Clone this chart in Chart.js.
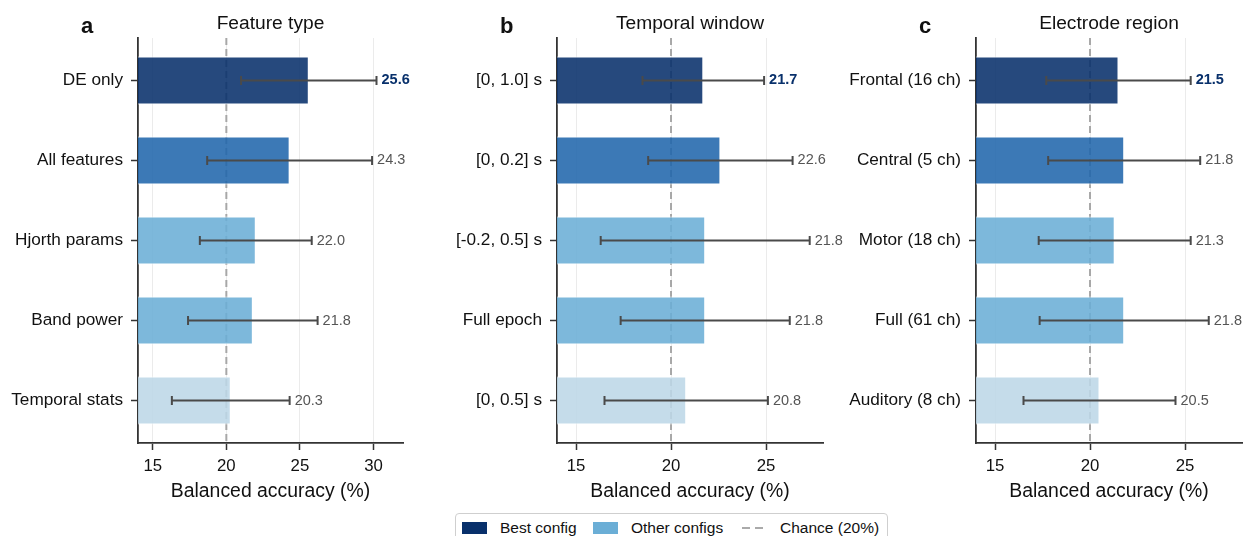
<!DOCTYPE html>
<html>
<head>
<meta charset="utf-8">
<script src="https://cdn.jsdelivr.net/npm/chart.js@4.4.0/dist/chart.umd.min.js"></script>
<style>
  html, body { margin: 0; padding: 0; background: #fff; }
  #wrap { position: relative; width: 1243px; height: 536px; overflow: hidden; }
  #wrap canvas { position: absolute; left: 0; top: 0; }
  .legend {
    position: absolute; left: 455px; top: 513px; width: 431px; height: 32px;
    border: 1px solid #cfcfcf; border-radius: 4px; background: #fff;
    font-family: "Liberation Sans", Arial, sans-serif; font-size: 15.5px; color: #111;
  }
  .legend span { position: absolute; top: 5px; white-space: nowrap; }
  .legend i { position: absolute; top: 8px; height: 12px; width: 25px; }
  .legend b { position: absolute; top: 13px; height: 2px; width: 8px; background: #aaa; }
</style>
</head>
<body>
<div id="wrap">
  <canvas id="chartA" width="1243" height="536"></canvas>
  <canvas id="chartB" width="1243" height="536"></canvas>
  <canvas id="chartC" width="1243" height="536"></canvas>
  <div class="legend">
    <i style="left:6px;background:#08306b"></i><span style="left:44px">Best config</span>
    <i style="left:137px;background:#6baed6"></i><span style="left:175px">Other configs</span>
    <b style="left:286px"></b><b style="left:299px"></b><span style="left:324px">Chance (20%)</span>
  </div>
</div>
<script>
// ---- data ----
const featureLabels = ['DE only', 'All features', 'Hjorth params', 'Band power', 'Temporal stats'];
const featureMeans = [25.6, 24.3, 22.0, 21.8, 20.3];
const featureStds = [4.6, 5.6, 3.8, 4.4, 4.0];

const windowLabels = ['[0, 1.0] s', '[0, 0.2] s', '[-0.2, 0.5] s', 'Full epoch', '[0, 0.5] s'];
const windowMeans = [21.7, 22.6, 21.8, 21.8, 20.8];
const windowStds = [3.2, 3.8, 5.5, 4.45, 4.3];

const regionLabels = ['Frontal (16 ch)', 'Central (5 ch)', 'Motor (18 ch)', 'Full (61 ch)', 'Auditory (8 ch)'];
const regionMeans = [21.5, 21.8, 21.3, 21.8, 20.5];
const regionStds = [3.8, 4.0, 4.0, 4.45, 4.0];

const xTicksA = [15, 20, 25, 30];
const xTicksBC = [15, 20, 25];
const chanceLevel = 20;

// ---- style ----
const FONT = '"Liberation Sans", Arial, sans-serif';
Chart.defaults.font.family = FONT;
const ROW_COLORS = [
  'rgba(8, 48, 107, 0.88)',
  'rgba(33, 102, 172, 0.88)',
  'rgba(107, 174, 214, 0.88)',
  'rgba(107, 174, 214, 0.88)',
  'rgba(189, 215, 231, 0.88)'
];
const Y_AXIS_W = 130;
const Y_MARGIN = 0.53; // matplotlib-like margin around the bars

// chance line, error bars, value labels, titles
const panelDecor = {
  id: 'panelDecor',
  beforeDatasetsDraw(chart, args, opts) {
    const { ctx, chartArea, scales: { x } } = chart;
    const px = x.getPixelForValue(opts.chance);
    ctx.save();
    ctx.strokeStyle = 'rgba(160, 160, 160, 0.9)';
    ctx.lineWidth = 2;
    ctx.setLineDash([7, 4]);
    ctx.beginPath();
    ctx.moveTo(px, chartArea.top);
    ctx.lineTo(px, chartArea.bottom);
    ctx.stroke();
    ctx.restore();
  },
  afterDatasetsDraw(chart, args, opts) {
    const { ctx, chartArea, scales: { x } } = chart;
    const meta = chart.getDatasetMeta(0);
    ctx.save();
    meta.data.forEach((bar, i) => {
      const y = bar.y;
      const lo = x.getPixelForValue(opts.means[i] - opts.stds[i]);
      const hi = x.getPixelForValue(opts.means[i] + opts.stds[i]);
      ctx.strokeStyle = '#4a4a4a';
      ctx.lineWidth = 2;
      ctx.beginPath();
      ctx.moveTo(lo, y); ctx.lineTo(hi, y);
      ctx.moveTo(lo, y - 4.5); ctx.lineTo(lo, y + 4.5);
      ctx.moveTo(hi, y - 4.5); ctx.lineTo(hi, y + 4.5);
      ctx.stroke();

      ctx.font = (i === 0 ? 'bold ' : '') + '14.5px ' + FONT;
      ctx.fillStyle = i === 0 ? '#08306b' : '#555';
      ctx.textAlign = 'left';
      ctx.textBaseline = 'middle';
      ctx.fillText(opts.means[i].toFixed(1), hi + 5, y);
    });

    ctx.fillStyle = '#111';
    ctx.textBaseline = 'alphabetic';
    ctx.font = '19.2px ' + FONT;
    ctx.textAlign = 'center';
    ctx.fillText(opts.title, (chartArea.left + chartArea.right) / 2, 29);
    ctx.font = 'bold 22px ' + FONT;
    ctx.textAlign = 'left';
    ctx.fillText(opts.letter, chartArea.left - 57, 33);
    ctx.restore();
  }
};

function renderPanel(canvasId, labels, means, stds, xTicks, xMax, title, letter, left, right) {
  const ctx = document.getElementById(canvasId).getContext('2d');
  return new Chart(ctx, {
    type: 'bar',
    data: {
      datasets: [{
        data: means.map((v, i) => ({ x: v, y: i })),
        backgroundColor: ROW_COLORS,
        borderColor: 'rgba(255, 255, 255, 0.9)',
        borderWidth: 1,
        barPercentage: 0.6,
        categoryPercentage: 1.0
      }]
    },
    options: {
      indexAxis: 'y',
      responsive: false,
      animation: false,
      layout: { padding: { left: left - Y_AXIS_W, right: 1243 - right, top: 38, bottom: 28 } },
      plugins: {
        legend: { display: false },
        tooltip: { enabled: false },
        panelDecor: { means, stds, chance: chanceLevel, title, letter }
      },
      scales: {
        x: {
          type: 'linear',
          min: 14,
          max: xMax,
          afterBuildTicks: s => { s.ticks = xTicks.map(v => ({ value: v })); },
          afterFit: s => { s.height = 65; },
          grid: { color: '#ebebeb', lineWidth: 1, tickColor: '#333', tickLength: 7, tickWidth: 1.5 },
          border: { color: '#333', width: 1.8 },
          ticks: { font: { size: 16.8 }, color: '#111', padding: 6 },
          title: {
            display: true,
            text: 'Balanced accuracy (%)',
            font: { size: 19.4 },
            color: '#111',
            padding: { top: 0, bottom: 5 }
          }
        },
        y: {
          type: 'linear',
          reverse: true,
          offset: false,
          min: -Y_MARGIN,
          max: labels.length - 1 + Y_MARGIN,
          afterBuildTicks: s => { s.ticks = labels.map((_, i) => ({ value: i })); },
          afterFit: s => { s.width = Y_AXIS_W; },
          grid: { drawOnChartArea: false, offset: false, tickColor: '#333', tickLength: 7, tickWidth: 1.5 },
          border: { color: '#333', width: 1.8 },
          ticks: { font: { size: 17.2 }, color: '#111', padding: 8, callback: v => labels[v] }
        }
      }
    },
    plugins: [panelDecor]
  });
}

renderPanel('chartA', featureLabels, featureMeans, featureStds, xTicksA, 32, 'Feature type', 'a', 138, 403);
renderPanel('chartB', windowLabels, windowMeans, windowStds, xTicksBC, 28, 'Temporal window', 'b', 557, 823);
renderPanel('chartC', regionLabels, regionMeans, regionStds, xTicksBC, 28, 'Electrode region', 'c', 976, 1242);
</script>
</body>
</html>
